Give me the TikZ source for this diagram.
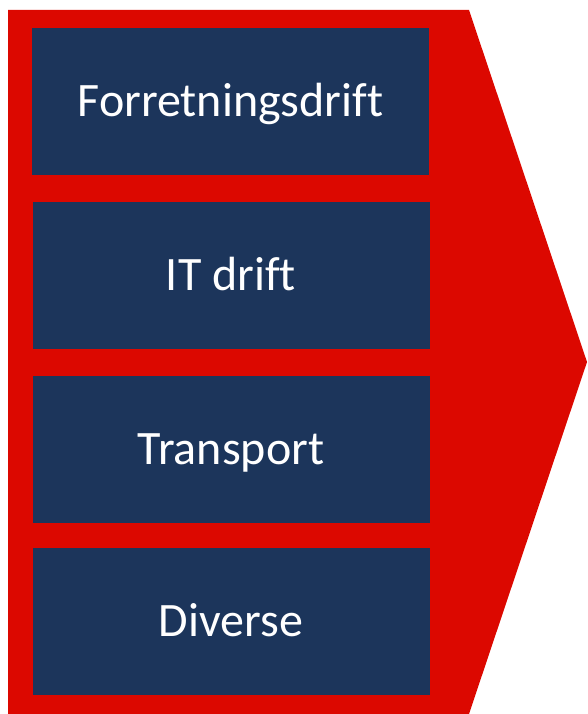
\documentclass[tikz,border=0pt]{standalone}
\usepackage{fontspec}
\setmainfont[Ligatures={NoCommon}]{Carlito}
\definecolor{arrowred}{RGB}{220,8,0}
\definecolor{boxnavy}{RGB}{28,53,91}
\begin{document}
\begin{tikzpicture}[x=1pt,y=-1pt,
  itembox/.style={fill=boxnavy, draw=none, minimum width=397pt, minimum height=147pt,
    inner sep=0pt, text=white, font=\fontsize{48}{52}\selectfont,
    text height=31pt, text depth=0pt, anchor=center}]
\useasboundingbox (0,0) rectangle (587,714);
\fill[arrowred] (8,10) -- (469,10) -- (587,362) -- (469,714) -- (8,714) -- cycle;
\node[itembox] (b1) at (230.5,101.5) {Forretningsdrift};
\node[itembox] (b2) at (231,275) {IT drift};
\node[itembox] (b3) at (231,449) {Transport};
\node[itembox] (b4) at (231,621) {Diverse};
\end{tikzpicture}
\end{document}
